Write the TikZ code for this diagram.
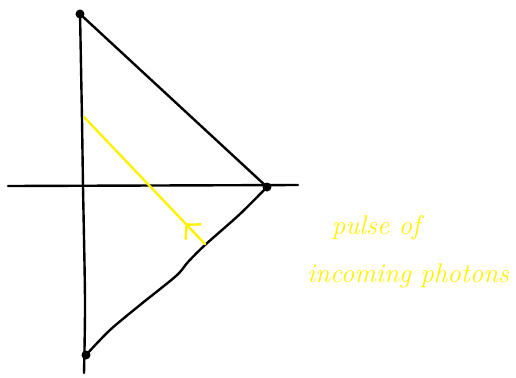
\documentclass[tikz,border=0pt]{standalone}
\usepackage{tikz}
\usetikzlibrary{
  arrows.meta,
  decorations.markings
}
\definecolor{pulsecol}{RGB}{255,242,0}

\begin{document}
\begin{tikzpicture}[
    x=0.5pt,y=-0.5pt,
    >=Latex,
    sketch/.style={line width=1.2pt,line cap=round,line join=round},
    dot/.style={circle,fill=black,inner sep=0pt,minimum size=4.5pt},
    label/.style={text=pulsecol,font=\fontsize{13.5}{16}\selectfont\itshape}
    ]
    \useasboundingbox (0,0) rectangle (516,377);
    
    % Eixos
    \coordinate (xl) at (8,186);
    \coordinate (xr) at (298,185);
    \draw[sketch] (xl)--(xr);
    \draw[sketch] plot[smooth] coordinates{(80,12) (82,120) (83,186) (85,300) (84,373)};
    
    % vértices
    \node[dot] (top) at (80,14) {};
    \node[dot] (tip) at (267,187) {};
    \node[dot] (bot) at (86,355) {};
    
    % triângulo
    \draw[sketch] (top.center)--(tip.center);
    \draw[sketch]
    plot[smooth]
    coordinates{
    (267,187)
    (240,214)
    (205,245)
    (188,262)
    (176,276)
    (140,305)
    (110,330)
    (86,355)
    };
    
    % pulso
    \coordinate (ps) at (84,117);
    \coordinate (pe) at (205,244);
    \draw[sketch,pulsecol,
      postaction={decorate},
      decoration={markings,
        mark=at position 0.84 with {\arrowreversed[pulsecol]{Straight Barb[length=5pt,width=11pt,line width=1.2pt]}}}]
    (ps)--(pe);
    
    % rótulos
    \node[label] (lbl1) at (376,228) {pulse of};
    \node[label] (lbl2) at (408,276) {incoming photons};
    
\end{tikzpicture}
\end{document}
